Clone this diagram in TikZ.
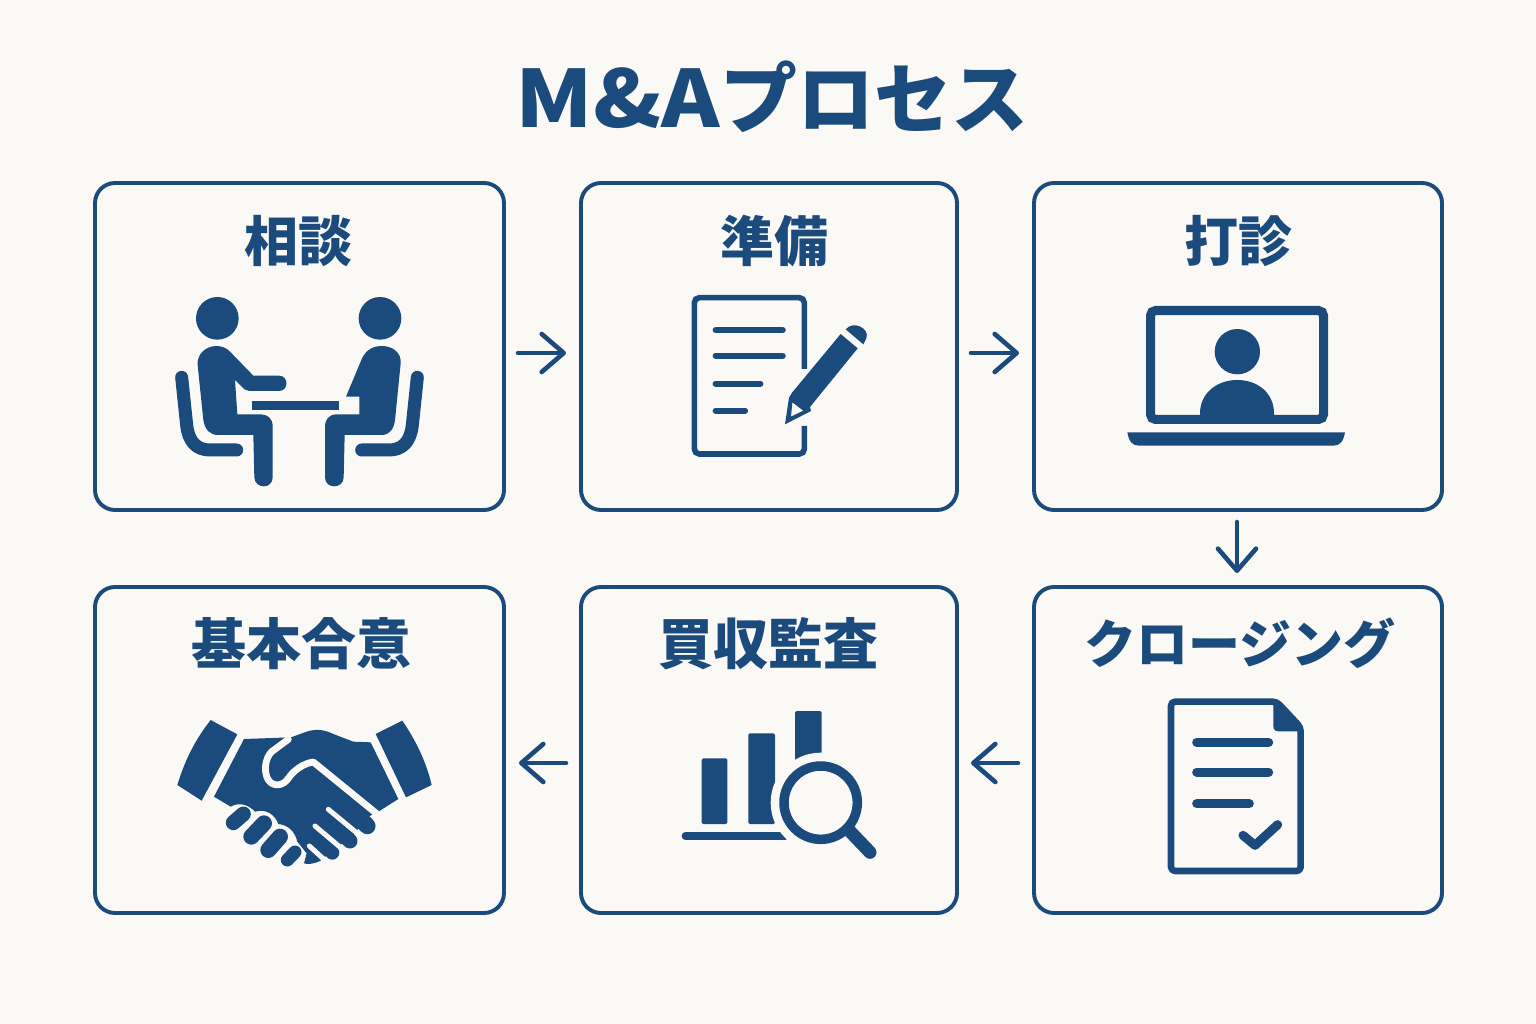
\documentclass[tikz,border=0pt]{standalone}
\usepackage{fontspec}
\newfontfamily\cjk{Noto Sans CJK JP}
\newfontfamily\latn{Noto Sans CJK JP}[FakeStretch=1.12]
\usetikzlibrary{arrows.meta}
\definecolor{navy}{HTML}{1B4A7C}
\definecolor{paper}{HTML}{FAF9F5}
\tikzset{
  card/.style={draw=navy,line width=3.9pt,rounded corners=20pt,fill=paper,outer sep=0pt,inner sep=0pt},
  cardlabel/.style={text=navy,font=\cjk\bfseries\fontsize{54}{60}\selectfont,inner sep=0pt},
  flow/.style={draw=navy,line width=4.6pt,line cap=round,-{Straight Barb[length=22pt,width=38pt,line width=4.6pt,round]},shorten <=14pt,shorten >=15pt},
  pen/.style={draw=navy,line cap=round,line join=round},
  gap/.style={draw=paper,line cap=round,line join=round},
}
\begin{document}
\begin{tikzpicture}[x=1pt,y=-1pt]
\useasboundingbox[fill=paper] (0,0) rectangle (1536,1024);
\node[text=navy,inner sep=0pt] (title) at (772,97) {{\latn\bfseries\fontsize{79}{90}\selectfont M\&A}{\cjk\bfseries\fontsize{77}{90}\selectfont プロセス}};

\node[card,minimum width=409pt,minimum height=327pt] (a) at (299.5,346.5) {};
\node[card,minimum width=376pt,minimum height=327pt] (b) at (769,346.5) {};
\node[card,minimum width=408pt,minimum height=327pt] (c) at (1238,346.5) {};
\node[card,minimum width=408pt,minimum height=326pt] (d) at (1238,750) {};
\node[card,minimum width=376pt,minimum height=326pt] (e) at (769,750) {};
\node[card,minimum width=409pt,minimum height=326pt] (f) at (299.5,750) {};

\node[cardlabel] (la) at (298,241) {相談};
\node[cardlabel] (lb) at (774,241) {準備};
\node[cardlabel] (lc) at (1238,241) {打診};
\node[cardlabel,font=\cjk\bfseries\fontsize{52}{60}\selectfont] (ld) at (1240,643) {クロージング};
\node[cardlabel,font=\cjk\bfseries\fontsize{55}{60}\selectfont] (le) at (768,644) {買収監査};
\node[cardlabel,font=\cjk\bfseries\fontsize{55}{60}\selectfont] (lf) at (301,644) {基本合意};

\draw[flow] ([yshift=-6.5pt]a.east) -- ([yshift=-6.5pt]b.west);
\draw[flow] ([yshift=-6.5pt]b.east) -- ([yshift=-6.5pt]c.west);
\draw[flow,shorten <=12pt,shorten >=14pt] ([xshift=-1pt]c.south) -- ([xshift=-1pt]d.north);
\draw[flow,shorten <=16pt,shorten >=14pt] ([yshift=-13pt]d.west) -- ([yshift=-13pt]e.east);
\draw[flow,shorten <=15pt,shorten >=15pt] ([yshift=-13pt]e.west) -- ([yshift=-13pt]f.east);

% meeting icon
\begin{scope}[shift={(150,280)},scale=1/3]
\fill[navy] (202,115) circle (64) (690,115) circle (64);
\fill[navy] (200,198) .. controls (165,198) and (140,225) .. (143,255) -- (160,420)
  .. controls (165,450) and (180,465) .. (205,465) -- (310,465) -- (313,592)
  .. controls (315,628) and (368,628) .. (368,592) -- (368,438)
  .. controls (368,415) and (352,403) .. (332,403) -- (262,403) -- (255,300)
  -- (283,328) .. controls (288,332) and (292,333) .. (298,333) -- (387,333)
  .. controls (417,333) and (417,287) .. (387,287) -- (310,287) -- (240,215)
  .. controls (230,204) and (215,198) .. (200,198) -- cycle;
\fill[navy] (695,198) .. controls (660,198) and (640,220) .. (632,245) -- (588,350)
  -- (628,350) -- (628,403) -- (560,403) .. controls (538,403) and (525,418) .. (525,440)
  -- (525,592) .. controls (525,628) and (580,628) .. (581,592) -- (584,465)
  -- (695,465) .. controls (720,465) and (732,445) .. (735,420) -- (752,250)
  .. controls (755,220) and (730,198) .. (695,198) -- cycle;
\draw[pen,line width=13pt] (95,292) -- (110,435) .. controls (115,485) and (140,510) .. (180,510) -- (260,510);
\draw[pen,line width=13pt] (802,292) -- (787,435) .. controls (782,485) and (757,510) .. (717,510) -- (635,510);
\fill[navy] (307,363) rectangle (567,391);
\end{scope}

% document and pencil icon
\begin{scope}[shift={(670,285)},scale=1/3]
\draw[draw=navy,line width=5.6pt,rounded corners=5pt] (403,252) -- (403,38) -- (73,38) -- (73,507) -- (403,507) -- (403,423);
\draw[pen,line width=6.2pt] (137,135) -- (338,135) (137,212) -- (338,212) (137,296) -- (271,296) (137,377) -- (225,377);
\fill[navy,even odd rule] (367,322) -- (512,147) -- (563,190) -- (420,366) -- (423,378) -- (345,418) -- (357,338) -- cycle
  (367,352) -- (363,395) -- (400,377) -- cycle;
\fill[navy] (527,133) .. controls (550,105) and (600,130) .. (589,160) -- (580,178) -- cycle;
\end{scope}

% video call icon
\begin{scope}[shift={(1120,295)},scale=1/3]
\draw[draw=navy,line width=9pt,rounded corners=5pt] (91.5,46.5) rectangle (610.5,373.5);
\fill[navy] (352,170) circle (68);
\fill[navy] (240,385) -- (240,355) .. controls (240,295) and (290,255) .. (352,255)
  .. controls (414,255) and (462,295) .. (462,355) -- (462,385) -- cycle;
\fill[navy] (22,412) -- (675,412) .. controls (670,440) and (660,452) .. (640,452)
  -- (57,452) .. controls (37,452) and (27,440) .. (22,412) -- cycle;
\end{scope}

% closing document icon
\begin{scope}[shift={(1150,690)},scale=1/3]
\draw[draw=navy,line width=6.6pt,rounded corners=4pt,line join=round] (63,35) -- (380,35) -- (452,112) -- (452,543) -- (63,543) -- cycle;
\fill[navy] (370,35) -- (380,35) -- (455,112) -- (455,124) -- (385,124) .. controls (375,124) and (370,118) .. (370,108) -- cycle;
\draw[pen,line width=9pt] (140,157) -- (356,157) (140,246) -- (356,246) (140,341) -- (298,341);
\draw[pen,line width=9pt] (279,436) -- (315,466) -- (383,404);
\end{scope}

% audit icon
\begin{scope}[shift={(670,700)},scale=1/3]
\fill[navy,rounded corners=1.5pt] (95,175) rectangle (172,372);
\fill[navy,rounded corners=1.5pt] (235,100) rectangle (315,372);
\fill[navy,rounded corners=1.5pt] (375,33) rectangle (455,190);
\draw[pen,line width=7.5pt] (46,408) -- (345,408);
\fill[paper] (452,308) circle (150);
\draw[draw=navy,line width=9.5pt] (452,308) circle (110);
\draw[pen,line width=13pt] (538,392) -- (600,457);
\end{scope}

% handshake icon
\begin{scope}[shift={(160,700)},scale=1/3]
\fill[navy] (152,60) -- (232,103) -- (125,302) -- (52,255) .. controls (75,180) and (105,120) .. (152,60) -- cycle;
\fill[navy] (647,102) -- (727,62) .. controls (770,125) and (800,190) .. (815,255) -- (738,292) -- cycle;
\fill[navy] (252,117) -- (393,112) -- (440,95) .. controls (470,85) and (495,90) .. (520,102) -- (580,125) -- (632,127)
  -- (715,297) -- (655,335) -- (625,350) -- (575,410) -- (520,450) -- (480,483) .. controls (465,490) and (445,495) .. (432,490)
  -- (440,460) -- (412,425) .. controls (405,395) and (385,375) .. (355,372)
  .. controls (345,345) and (320,325) .. (285,335) .. controls (270,318) and (240,303) .. (212,320) -- (162,290) -- cycle;
\draw[pen,line width=16.5pt] (515,270) -- (622,378);
\draw[pen,line width=15pt] (470,320) -- (570,423);
\draw[pen,line width=14pt] (440,370) -- (517,458);
\draw[gap,line width=6.8pt] (385,118) -- (335,155) .. controls (315,175) and (310,215) .. (325,240)
  .. controls (340,262) and (370,258) .. (385,235) .. controls (400,212) and (430,190) .. (460,186) -- (655,345);
\draw[gap,line width=5pt] (505,328) -- (610,415);
\draw[gap,line width=5pt] (465,378) -- (560,458);
\draw[gap,line width=5pt] (448,438) -- (505,490);
\draw[pen,line width=15pt] (220,368) -- (250,342);
\draw[pen,line width=16pt] (274,410) -- (312,370);
\draw[pen,line width=16pt] (325,450) -- (360,410);
\draw[pen,line width=13pt] (382,480) -- (405,456);
\end{scope}
\end{tikzpicture}
\end{document}
